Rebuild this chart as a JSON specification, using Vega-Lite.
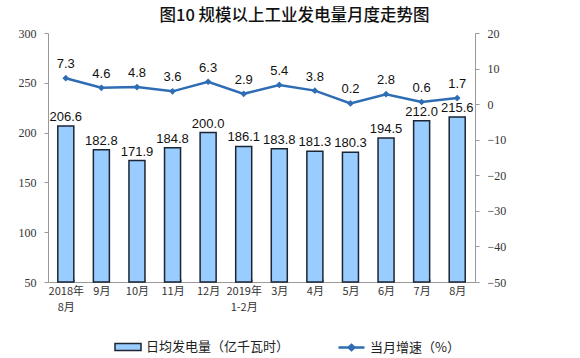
{
  "$schema": "https://vega.github.io/schema/vega-lite/v6.json",
  "width": 427,
  "height": 249,
  "autosize": {"type": "none"},
  "padding": {"left": 48, "top": 33, "right": 105, "bottom": 76},
  "background": "#ffffff",
  "config": {"view": {"stroke": null}, "font": "Liberation Sans"},
  "title": {
    "text": "图10  规模以上工业发电量月度走势图",
    "font": "Noto Sans CJK SC",
    "fontSize": 16.5,
    "fontWeight": 500,
    "color": "#111111",
    "anchor": "middle",
    "dx": 33,
    "offset": 3
  },
  "data": {
    "values": [
      {"m": "2018年|8月", "gen": 206.6, "rate": 7.3},
      {"m": "9月", "gen": 182.8, "rate": 4.6},
      {"m": "10月", "gen": 171.9, "rate": 4.8},
      {"m": "11月", "gen": 184.8, "rate": 3.6},
      {"m": "12月", "gen": 200.0, "rate": 6.3},
      {"m": "2019年|1-2月", "gen": 186.1, "rate": 2.9},
      {"m": "3月", "gen": 183.8, "rate": 5.4},
      {"m": "4月", "gen": 181.3, "rate": 3.8},
      {"m": "5月", "gen": 180.3, "rate": 0.2},
      {"m": "6月", "gen": 194.5, "rate": 2.8},
      {"m": "7月", "gen": 212.0, "rate": 0.6},
      {"m": "8月", "gen": 215.6, "rate": 1.7}
    ]
  },
  "encoding": {
    "x": {
      "field": "m",
      "type": "nominal",
      "sort": null,
      "scale": {"paddingInner": 0.55, "paddingOuter": 0.275},
      "axis": {
        "title": null,
        "labelAngle": 0,
        "labelExpr": "split(datum.label, '|')",
        "labelFont": "Noto Sans CJK SC",
        "labelFontSize": 11,
        "labelColor": "#333333",
        "labelLineHeight": 16,
        "labelPadding": 6,
        "domainColor": "#999999",
        "tickColor": "#999999",
        "tickBand": "extent",
        "tickSize": -3
      }
    }
  },
  "layer": [
    {
      "encoding": {
        "y": {
          "field": "gen",
          "type": "quantitative",
          "scale": {"domain": [50, 300], "zero": false, "nice": false},
          "axis": {
            "title": null,
            "values": [50, 100, 150, 200, 250, 300],
            "labelOverlap": false,
            "labelFont": "Liberation Serif",
            "labelFontSize": 12,
            "labelColor": "#333333",
            "domainColor": "#999999",
            "tickColor": "#999999",
            "tickSize": 4,
            "labelPadding": 8,
            "grid": false
          }
        }
      },
      "layer": [
        {
          "mark": {"type": "bar", "stroke": "#1c2533", "strokeWidth": 1.5},
          "encoding": {
            "y2": {"datum": 50},
            "fill": {
              "datum": "日均发电量（亿千瓦时）",
              "scale": {"range": ["#99ccff"]},
              "legend": {
                "orient": "none",
                "legendX": 66,
                "legendY": 300,
                "title": null,
                "symbolType": "M-1,-0.27H1V0.27H-1Z",
                "symbolSize": 676,
                "symbolStrokeColor": "#1c2533",
                "symbolStrokeWidth": 1.5,
                "labelFont": "Noto Sans CJK SC",
                "labelFontSize": 13,
                "labelColor": "#222222",
                "labelOffset": 4
              }
            }
          }
        },
        {
          "mark": {"type": "text", "dy": -9, "fontSize": 13, "color": "#111111", "font": "Liberation Sans"},
          "encoding": {
            "text": {"field": "gen", "type": "quantitative", "format": ".1f"}
          }
        }
      ]
    },
    {
      "encoding": {
        "y": {
          "field": "rate",
          "type": "quantitative",
          "scale": {"domain": [-50, 20], "nice": false, "zero": false},
          "axis": {
            "orient": "right",
            "title": null,
            "values": [-50, -40, -30, -20, -10, 0, 10, 20],
            "labelOverlap": false,
            "labelFont": "Liberation Serif",
            "labelFontSize": 12,
            "labelColor": "#333333",
            "domainColor": "#999999",
            "tickColor": "#999999",
            "tickSize": 4,
            "labelPadding": 8,
            "grid": false
          }
        }
      },
      "layer": [
        {
          "mark": {"type": "line", "strokeWidth": 2.5},
          "encoding": {
            "stroke": {
              "datum": "当月增速（%）",
              "scale": {"range": ["#2e6db4"]},
              "legend": {
                "orient": "none",
                "legendX": 289,
                "legendY": 300,
                "title": null,
                "symbolType": "M-1,0H1M-0.22,0L0,-0.2L0.22,0L0,0.2Z",
                "symbolSize": 676,
                "symbolStrokeWidth": 2.5,
                "symbolFillColor": "#2e6db4",
                "labelFont": "Noto Sans CJK SC",
                "labelFontSize": 13,
                "labelColor": "#222222",
                "labelOffset": 4
              }
            }
          }
        },
        {
          "mark": {"type": "point", "shape": "diamond", "filled": true, "size": 45, "color": "#2e6db4", "opacity": 1},
          "encoding": {}
        },
        {
          "mark": {"type": "text", "dy": -14, "fontSize": 13, "color": "#111111", "font": "Liberation Sans"},
          "encoding": {
            "text": {"field": "rate", "type": "quantitative", "format": ".1f"}
          }
        }
      ]
    }
  ],
  "resolve": {"scale": {"y": "independent"}}
}
